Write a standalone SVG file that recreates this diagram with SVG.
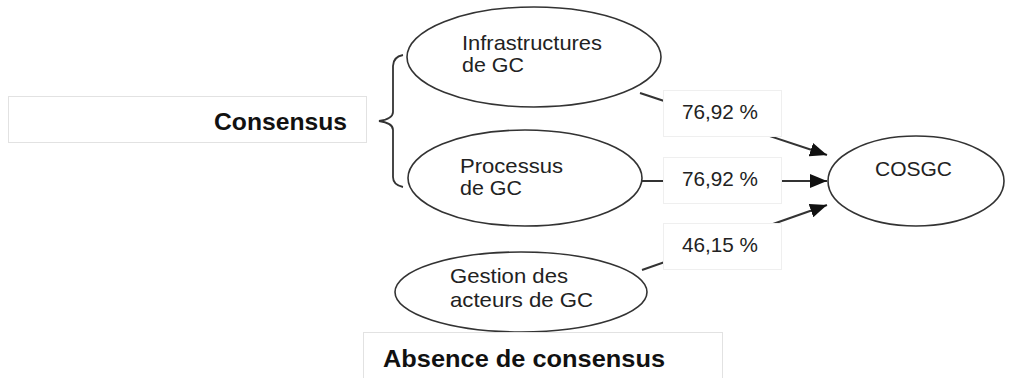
<svg xmlns="http://www.w3.org/2000/svg" width="1009" height="378" viewBox="0 0 1009 378">
<style>
.node ellipse{fill:#fff;stroke:#333;stroke-width:1.6}
.t{font-family:"Liberation Sans",Arial,sans-serif;font-size:21px;fill:#222}
.b{font-family:"Liberation Sans",Arial,sans-serif;font-size:24px;font-weight:bold;fill:#111}
.box{fill:#fff;stroke:#e2e2e2;stroke-width:1}
.lbox{fill:#fff;stroke:#efefef;stroke-width:1}
.conn line{stroke:#333;stroke-width:2}
</style>
<defs>
<marker id="ah" markerUnits="userSpaceOnUse" markerWidth="18" markerHeight="14" refX="17" refY="7" orient="auto">
<path d="M0,0 L17,7 L0,14 z" fill="#111"/>
</marker>
</defs>
<rect width="1009" height="378" fill="#fff"/>
<g id="consensus">
<rect class="box" x="8.5" y="96.5" width="358" height="46"/>
<text class="b" x="214" y="130" textLength="133" lengthAdjust="spacingAndGlyphs">Consensus</text>
</g>
<g id="brace">
<path d="M403,55 Q393,57 393,66 L393,112 Q393,119 379,121 Q393,123 393,130 L393,177 Q393,185 403,187" fill="none" stroke="#333" stroke-width="1.8"/>
</g>
<g class="conn" id="connectors">
<line x1="640" y1="93" x2="827" y2="155" marker-end="url(#ah)"/>
<line x1="642" y1="181" x2="827" y2="181" marker-end="url(#ah)"/>
<line x1="642" y1="270" x2="827" y2="205" marker-end="url(#ah)"/>
</g>
<g id="label1">
<rect class="lbox" x="663.5" y="90.5" width="118" height="46"/>
<text class="t" x="682" y="119" textLength="76" lengthAdjust="spacingAndGlyphs">76,92 %</text>
</g>
<g id="label2">
<rect class="lbox" x="663.5" y="157.5" width="118" height="46"/>
<text class="t" x="682" y="186" textLength="76" lengthAdjust="spacingAndGlyphs">76,92 %</text>
</g>
<g id="label3">
<rect class="lbox" x="663.5" y="223.5" width="118" height="46"/>
<text class="t" x="682" y="252" textLength="76" lengthAdjust="spacingAndGlyphs">46,15 %</text>
</g>
<g class="node" id="infra">
<ellipse cx="534" cy="57" rx="127" ry="50"/>
<text class="t" x="462" y="50" textLength="140" lengthAdjust="spacingAndGlyphs">Infrastructures</text>
<text class="t" x="462" y="72" textLength="62" lengthAdjust="spacingAndGlyphs">de GC</text>
</g>
<g class="node" id="processus">
<ellipse cx="525" cy="178" rx="117" ry="48"/>
<text class="t" x="460" y="173" textLength="103" lengthAdjust="spacingAndGlyphs">Processus</text>
<text class="t" x="460" y="195" textLength="62" lengthAdjust="spacingAndGlyphs">de GC</text>
</g>
<g class="node" id="gestion">
<ellipse cx="521" cy="292" rx="126" ry="40"/>
<text class="t" x="450" y="283" textLength="118" lengthAdjust="spacingAndGlyphs">Gestion des</text>
<text class="t" x="450" y="307" textLength="143" lengthAdjust="spacingAndGlyphs">acteurs de GC</text>
</g>
<g class="node" id="cosgc">
<ellipse cx="916" cy="181" rx="88" ry="45"/>
<text class="t" x="875" y="176" textLength="77" lengthAdjust="spacingAndGlyphs">COSGC</text>
</g>
<g id="absence">
<rect class="box" x="363.5" y="332.5" width="359" height="50"/>
<text class="b" x="383" y="367" textLength="282" lengthAdjust="spacingAndGlyphs">Absence de consensus</text>
</g>
</svg>
